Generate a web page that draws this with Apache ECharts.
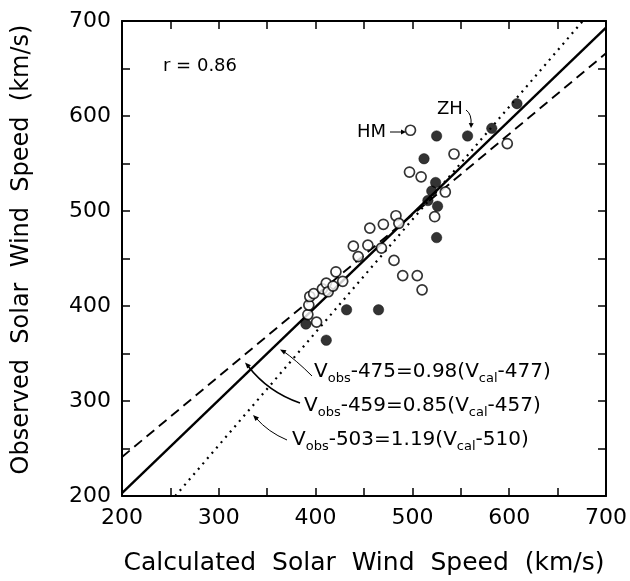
<!DOCTYPE html>
<html>
<head>
<meta charset="utf-8">
<script src="https://cdn.jsdelivr.net/npm/echarts@6/dist/echarts.min.js"></script>
<style>html,body{margin:0;padding:0;background:#fff}#c{width:630px;height:581px}</style>
</head>
<body>
<div id="c"></div>
<script>
// ---- data ----
const xTicks = [200, 300, 400, 500, 600, 700];
const yTicks = [200, 300, 400, 500, 600, 700];
const openPoints = [
  [498,585],[543,560],[598,571],[497,541],[509,536],[534,520],[523,494],
  [483,495],[486,487],[470,486],[456,482],[454,464],[468,461],[444,452],
  [439,463],[481,448],[490,432],[505,432],[510,417],
  [392,391],[393,401],[394,410],[398,413],[401,383],[407,418],[411,424],
  [413,415],[418,421],[421,436],[428,426]
];
const filledPoints = [
  [608,613],[582,587],[557,579],[525,579],[512,555],[524,530],[520,521],
  [516,511],[526,505],[525,472],[465,396],[432,396],[411,364],[390,381]
];
const solidLine  = [[200,203],[700,693]];   // Vobs-475=0.98(Vcal-477)
const dashedLine = [[200,241],[700,666]];   // Vobs-459=0.85(Vcal-457)
const dottedLine = [[255,200],[676,700]];   // Vobs-503=1.19(Vcal-510)
const labels = {
  r: 'r = 0.86',
  eq1: ['-475=0.98(V', '-477)'],
  eq2: ['-459=0.85(V', '-457)'],
  eq3: ['-503=1.19(V', '-510)']
};

const F = 'DejaVu Sans';
const chart = echarts.init(document.getElementById('c'), null, {renderer:'canvas'});

function axisCommon(pos, showLabel, ticks) {
  return {
    type:'value', min:200, max:700, interval:50, position:pos,
    axisLine:{show:true, onZero:false, lineStyle:{color:'#000', width:2}},
    axisTick:{show:true, inside:true, length:8, lineStyle:{color:'#000', width:1.5}},
    splitLine:{show:false},
    axisLabel:{show:showLabel, color:'#000', fontFamily:F, fontSize:22, margin:11,
      showMinLabel:true, showMaxLabel:true,
      formatter: v => (ticks.indexOf(v) >= 0 ? String(v) : '')}
  };
}

function arrowHead(tip, from, len, half) {
  const dx = tip[0]-from[0], dy = tip[1]-from[1];
  const d = Math.hypot(dx, dy); const ux = dx/d, uy = dy/d;
  const bx = tip[0]-ux*len, by = tip[1]-uy*len;
  return {type:'polygon', shape:{points:[tip,[bx-uy*half, by+ux*half],[bx+uy*half, by-ux*half]]},
    style:{fill:'#000'}, z:10};
}
function curve(p0, cp, p1, w) {
  return {type:'bezierCurve', shape:{x1:p0[0], y1:p0[1], x2:p1[0], y2:p1[1], cpx1:cp[0], cpy1:cp[1]},
    style:{stroke:'#000', lineWidth:w, fill:null}, z:10};
}
function eqText(x, y, parts) {
  return {type:'text', x:x, y:y, z:10,
    style:{text:'{n|V}{s|obs}{n|' + parts[0] + '}{s|cal}{n|' + parts[1] + '}',
      rich:{
        n:{fontFamily:F, fontSize:20, fill:'#000', lineHeight:24, verticalAlign:'top'},
        s:{fontFamily:F, fontSize:13, fill:'#000', lineHeight:16, verticalAlign:'top', padding:[10,0,0,0]}
      }}};
}

const option = {
  animation:false,
  backgroundColor:'#fff',
  grid:{left:122, right:19, top:21, bottom:78, containLabel:false},
  xAxis:[
    Object.assign(axisCommon('bottom', true, xTicks), {name:'Calculated  Solar  Wind  Speed  (km/s)',
      nameLocation:'middle', nameGap:55, nameTextStyle:{fontFamily:F, fontSize:25, color:'#000'}}),
    axisCommon('top', false, xTicks)
  ],
  yAxis:[
    Object.assign(axisCommon('left', true, yTicks), {name:'Observed  Solar  Wind  Speed  (km/s)',
      nameLocation:'middle', nameGap:88, nameRotate:90,
      nameTextStyle:{fontFamily:F, fontSize:24, color:'#000', padding:[0,0,0,18]}}),
    axisCommon('right', false, yTicks)
  ],
  series:[
    {type:'line', data:solidLine, symbol:'none', lineStyle:{color:'#000', width:2.4}, z:2},
    {type:'line', data:dashedLine, symbol:'none', lineStyle:{color:'#000', width:1.9, type:[10,6]}, z:2},
    {type:'line', data:dottedLine, symbol:'none', lineStyle:{color:'#000', width:2.2, type:[2,5]}, z:2},
    {type:'scatter', data:openPoints, symbol:'circle', symbolSize:10,
      itemStyle:{color:'#fff', borderColor:'#000', borderWidth:1.7}, z:5},
    {type:'scatter', data:filledPoints, symbol:'circle', symbolSize:10.5,
      itemStyle:{color:'#000', borderColor:'#000', borderWidth:0.5}, z:6}
  ],
  graphic:[
    {type:'text', x:163, y:57, z:10, style:{text:labels.r, font:'18px "DejaVu Sans"', fill:'#000'}},
    {type:'text', x:357, y:123, z:10, style:{text:'HM', font:'18px "DejaVu Sans"', fill:'#000'}},
    {type:'line', shape:{x1:390, y1:132, x2:402, y2:132}, style:{stroke:'#000', lineWidth:1}, z:10},
    arrowHead([406,132],[390,132],5,2.5),
    {type:'text', x:437, y:100, z:10, style:{text:'ZH', font:'18px "DejaVu Sans"', fill:'#000'}},
    curve([466,110],[472,114],[471,125],1),
    arrowHead([471,128],[471.5,118],5,2.5),
    eqText(314, 362, labels.eq1),
    eqText(304, 396, labels.eq2),
    eqText(292, 430, labels.eq3),
    curve([312,376],[296,360],[283,351],1),
    arrowHead([280,349.5],[290,355],6,2.5),
    curve([300,403],[268,392],[248,366],1.6),
    arrowHead([245,362.5],[252,370],6,2.5),
    curve([287,440],[268,432],[256,418],1),
    arrowHead([253,415],[260,422],6,2.5)
  ]
};
chart.setOption(option);
</script>
</body>
</html>
